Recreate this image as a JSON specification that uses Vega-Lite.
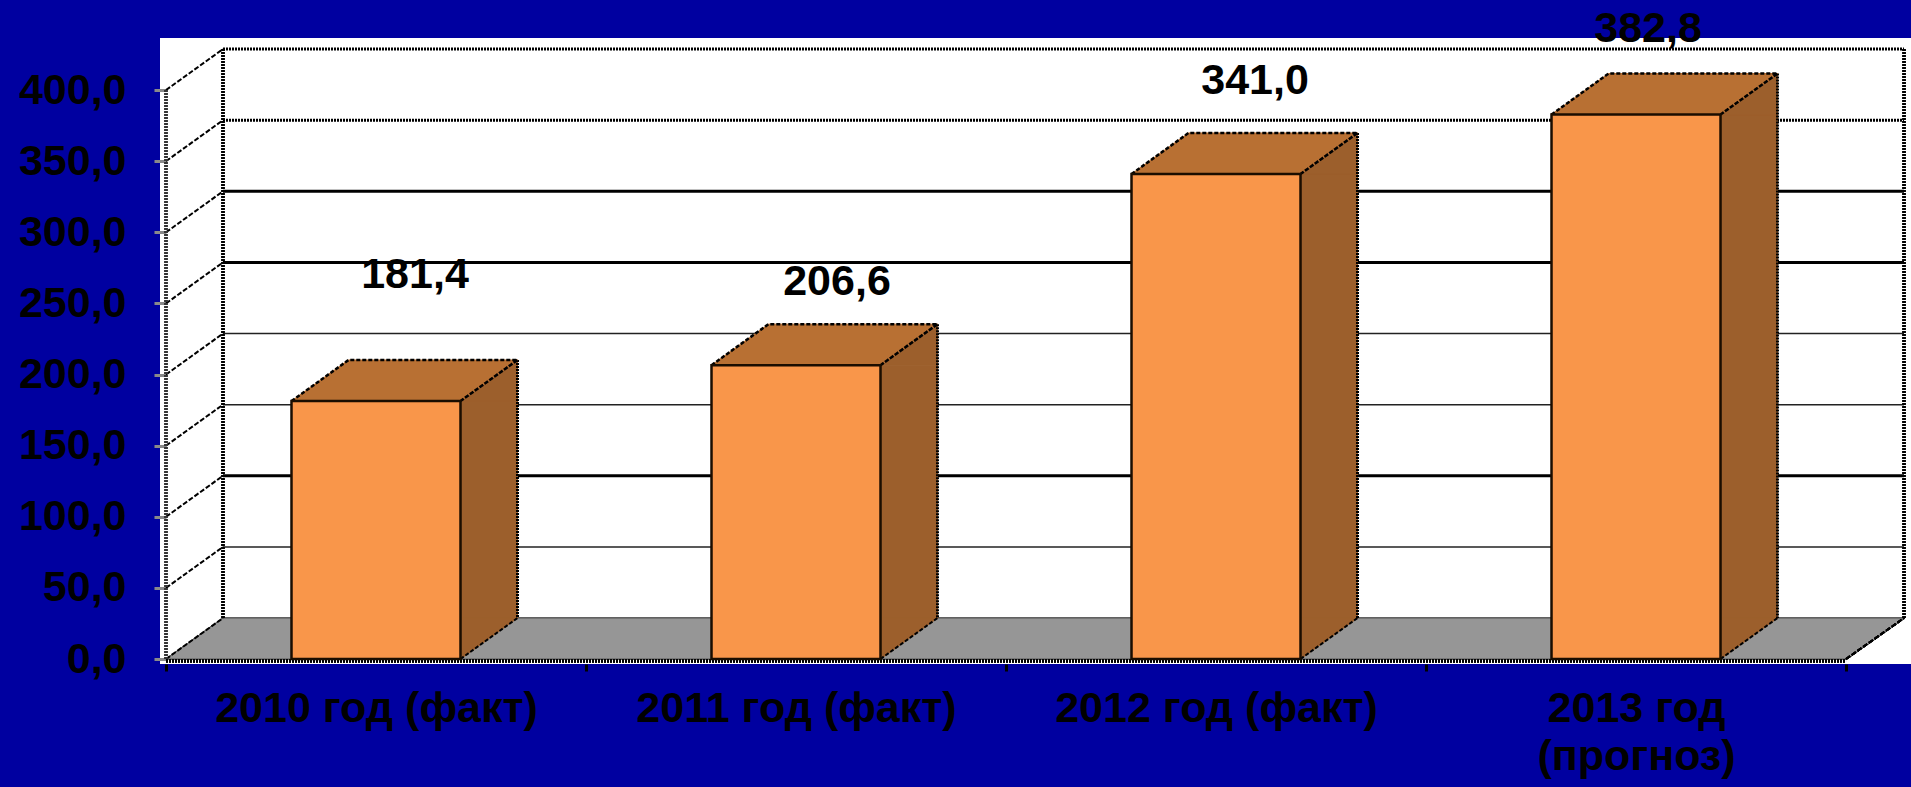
{
"$schema":"https://vega.github.io/schema/vega-lite/v6.json",
"width":1911,"height":787,
"autosize":{"type":"none","contains":"padding"},
"padding":{"left":160,"top":38,"right":0,"bottom":123},
"background":"#0000a0",
"view":{"fill":"#ffffff","stroke":null},
"datasets":{
"bars":[
{"period":"2010 год (факт)","value":181.4,"label":"181,4"},
{"period":"2011 год (факт)","value":206.6,"label":"206,6"},
{"period":"2012 год (факт)","value":341.0,"label":"341,0"},
{"period":"2013 год (прогноз)","value":382.8,"label":"382,8"}],
"ticks":[{"tick":0},{"tick":50},{"tick":100},{"tick":150},{"tick":200},{"tick":250},{"tick":300},{"tick":350},{"tick":400}]
},
"data":{"name":"bars"},
"layer":[
{"data":{"name":"ticks"},"transform":[{"filter":{"field":"tick","oneOf":[350,400]}}],
 "mark":{"type":"rule","color":"#000000","strokeWidth":3,"strokeDash":[2,1],"xOffset":57,"x2Offset":58,"yOffset":-41},
 "encoding":{"x":{"datum":"2010 год (факт)","bandPosition":0,"type":"nominal"},"x2":{"datum":"2013 год (прогноз)","bandPosition":1},"y":{"field":"tick","type":"quantitative"}}},
{"data":{"name":"ticks"},"transform":[{"filter":{"field":"tick","oneOf":[100,250,300]}}],
 "mark":{"type":"rule","color":"#000000","strokeWidth":3,"xOffset":57,"x2Offset":58,"yOffset":-41},
 "encoding":{"x":{"datum":"2010 год (факт)","bandPosition":0,"type":"nominal"},"x2":{"datum":"2013 год (прогноз)","bandPosition":1},"y":{"field":"tick","type":"quantitative"}}},
{"data":{"name":"ticks"},"transform":[{"filter":{"field":"tick","oneOf":[50,150,200]}}],
 "mark":{"type":"rule","color":"#222222","strokeWidth":1.5,"xOffset":57,"x2Offset":58,"yOffset":-41},
 "encoding":{"x":{"datum":"2010 год (факт)","bandPosition":0,"type":"nominal"},"x2":{"datum":"2013 год (прогноз)","bandPosition":1},"y":{"field":"tick","type":"quantitative"}}},
{"mark":{"type":"point","shape":"M0,0 L57,-41 L1739,-41 L1681,0 Z","size":4,"filled":true,"fill":"#969696","stroke":"#555555","strokeWidth":1,"opacity":1},
 "encoding":{"x":{"datum":"2010 год (факт)","bandPosition":0,"type":"nominal"},"y":{"datum":0,"type":"quantitative"}}},
{"data":{"name":"ticks"},
 "mark":{"type":"point","shape":"M0,0 L57,-41","size":4,"filled":false,"stroke":"#000000","strokeWidth":2,"strokeDash":[5,2],"opacity":1},
 "encoding":{"x":{"datum":"2010 год (факт)","bandPosition":0,"type":"nominal"},"y":{"field":"tick","type":"quantitative"}}},
{"mark":{"type":"point","shape":"M0,0 L58,-41","size":4,"filled":false,"stroke":"#000000","strokeWidth":2,"strokeDash":[5,2],"opacity":1},
 "encoding":{"x":{"datum":"2013 год (прогноз)","bandPosition":1,"type":"nominal"},"y":{"datum":0,"type":"quantitative"}}},
{"mark":{"type":"rule","color":"#000000","strokeWidth":3,"strokeDash":[2,1],"xOffset":57,"yOffset":-41,"y2Offset":-41},
 "encoding":{"x":{"datum":"2010 год (факт)","bandPosition":0,"type":"nominal"},"y":{"datum":400,"type":"quantitative"},"y2":{"datum":0}}},
{"mark":{"type":"rule","color":"#000000","strokeWidth":3,"strokeDash":[2,1],"xOffset":58,"yOffset":-41,"y2Offset":-41},
 "encoding":{"x":{"datum":"2013 год (прогноз)","bandPosition":1,"type":"nominal"},"y":{"datum":400,"type":"quantitative"},"y2":{"datum":0}}},
{"mark":{"type":"rule","color":"#333333","strokeWidth":3,"strokeDash":[2,1]},
 "encoding":{"x":{"datum":"2010 год (факт)","bandPosition":0,"type":"nominal"},"y":{"datum":400,"type":"quantitative"},"y2":{"datum":0}}},
{"mark":{"type":"rule","color":"#000000","strokeWidth":3,"strokeDash":[2,1],"yOffset":2,"y2Offset":2},
 "encoding":{"x":{"datum":"2010 год (факт)","bandPosition":0,"type":"nominal"},"x2":{"datum":"2013 год (прогноз)","bandPosition":1},"y":{"datum":0,"type":"quantitative"}}},
{"mark":{"type":"bar","width":57,"xOffset":113,"fill":"#9c5f2c","stroke":"#9c5f2c","strokeWidth":1},
 "encoding":{"x":{"field":"period","type":"nominal"},"y":{"field":"value","type":"quantitative","stack":null},"y2":{"datum":28.8}}},
{"mark":{"type":"point","shape":"M84.5,0 L141.5,-41 L141.5,0 Z","size":4,"filled":true,"fill":"#9c5f2c","stroke":"#9c5f2c","strokeWidth":1,"opacity":1},
 "encoding":{"x":{"field":"period","type":"nominal"},"y":{"field":"value","type":"quantitative"}}},
{"mark":{"type":"point","shape":"M84.5,0 L141.5,-41 L84.5,-41 Z","size":4,"filled":true,"fill":"#9c5f2c","stroke":"#9c5f2c","strokeWidth":1,"opacity":1},
 "encoding":{"x":{"field":"period","type":"nominal"},"y":{"datum":0,"type":"quantitative"}}},
{"mark":{"type":"rule","color":"#000000","strokeWidth":3,"strokeDash":[2,1],"xOffset":141.5,"yOffset":-41,"y2Offset":-41},
 "encoding":{"x":{"field":"period","type":"nominal"},"y":{"field":"value","type":"quantitative"},"y2":{"datum":0}}},
{"mark":{"type":"point","shape":"M84.5,0 L141.5,-41 L-27.5,-41 L-84.5,0 Z","size":4,"filled":true,"fill":"#b87033","stroke":"#b87033","strokeWidth":1,"opacity":1},
 "encoding":{"x":{"field":"period","type":"nominal"},"y":{"field":"value","type":"quantitative"}}},
{"mark":{"type":"point","shape":"M-84.5,0 L-27.5,-41 L141.5,-41 L84.5,0 M84.5,0 L141.5,-41","size":4,"filled":false,"stroke":"#000000","strokeWidth":2.5,"strokeDash":[4,2],"opacity":1},
 "encoding":{"x":{"field":"period","type":"nominal"},"y":{"field":"value","type":"quantitative"}}},
{"mark":{"type":"point","shape":"M84.5,0 L141.5,-41","size":4,"filled":false,"stroke":"#000000","strokeWidth":2,"strokeDash":[4,2],"opacity":1},
 "encoding":{"x":{"field":"period","type":"nominal"},"y":{"datum":0,"type":"quantitative"}}},
{"mark":{"type":"bar","width":{"band":0.4024},"fill":"#f9964a","stroke":"#1a0d00","strokeWidth":2.5},
 "encoding":{
  "x":{"field":"period","type":"nominal","sort":null,
   "scale":{"type":"band","domain":["2010 год (факт)","2011 год (факт)","2012 год (факт)","2013 год (прогноз)"],"paddingInner":0,"paddingOuter":0.0845,"align":0.0845},
   "title":null,
   "axis":{"tickBand":"extent","domain":false,"grid":false,"labelAngle":0,"labelAlign":"center","labelPadding":16,"tickSize":7,"tickColor":"#000000","tickWidth":3,"labelColor":"#000000","labelFont":"Liberation Sans","labelFontWeight":"bold","labelFontSize":43,"labelLimit":0,"labelBaseline":"top","labelLineHeight":48,
    "labelExpr":"datum.value == '2013 год (прогноз)' ? ['2013 год','(прогноз)'] : datum.label"}},
  "y":{"field":"value","type":"quantitative","stack":null,
   "scale":{"domain":[-3.5,436.6],"nice":false,"zero":false},
   "title":null,
   "axis":{"values":[0,50,100,150,200,250,300,350,400],"offset":-6,"domain":false,"grid":false,"tickSize":12,"tickColor":"#8a8a8a","tickWidth":3,"labelPadding":28,"labelColor":"#000000","labelFont":"Liberation Sans","labelFontWeight":"bold","labelFontSize":43,"labelExpr":"replace(format(datum.value,'.1f'),'.',',')"}},
  "y2":{"datum":0}}},
{"transform":[{"filter":{"field":"label","equal":"181,4"}}],
 "mark":{"type":"text","font":"Liberation Sans","fontWeight":"bold","fontSize":43,"color":"#000000","dx":39,"dy":-126,"baseline":"middle"},
 "encoding":{"x":{"field":"period","type":"nominal"},"y":{"field":"value","type":"quantitative"},"text":{"field":"label"}}},
{"transform":[{"filter":{"field":"label","equal":"206,6"}}],
 "mark":{"type":"text","font":"Liberation Sans","fontWeight":"bold","fontSize":43,"color":"#000000","dx":41,"dy":-83,"baseline":"middle"},
 "encoding":{"x":{"field":"period","type":"nominal"},"y":{"field":"value","type":"quantitative"},"text":{"field":"label"}}},
{"transform":[{"filter":{"field":"label","equal":"341,0"}}],
 "mark":{"type":"text","font":"Liberation Sans","fontWeight":"bold","fontSize":43,"color":"#000000","dx":39,"dy":-93,"baseline":"middle"},
 "encoding":{"x":{"field":"period","type":"nominal"},"y":{"field":"value","type":"quantitative"},"text":{"field":"label"}}},
{"transform":[{"filter":{"field":"label","equal":"382,8"}}],
 "mark":{"type":"text","font":"Liberation Sans","fontWeight":"bold","fontSize":43,"color":"#000000","dx":12,"dy":-86,"baseline":"middle"},
 "encoding":{"x":{"field":"period","type":"nominal"},"y":{"field":"value","type":"quantitative"},"text":{"field":"label"}}}
]
}
